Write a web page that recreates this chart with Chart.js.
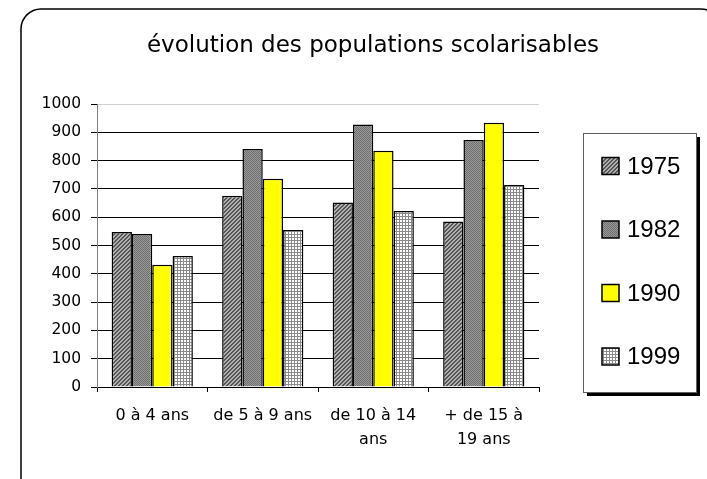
<!DOCTYPE html>
<html>
<head>
<meta charset="utf-8">
<script src="https://cdn.jsdelivr.net/npm/chart.js@4"></script>
<style>
    html, body { margin: 0; padding: 0; background: #fff; }
    #wrap { width: 707px; height: 479px; }
</style>
</head>
<body>
<div id="wrap"><canvas id="chart" width="707" height="479"></canvas></div>
<script>
// Data
const categories = [['0 à 4 ans'], ['de 5 à 9 ans'], ['de 10 à 14', 'ans'], ['+ de 15 à', '19 ans']];
const years = ['1975', '1982', '1990', '1999'];
const values1975 = [548, 676, 652, 585];
const values1982 = [541, 841, 928, 873];
const values1990 = [432, 736, 835, 934];
const values1999 = [463, 555, 622, 714];
const yMin = 0;
const yMax = 1000;
const yStep = 100;
const chartTitle = 'évolution des populations scolarisables';

// Fill patterns
function makePattern(size, paint) {
    const c = document.createElement('canvas');
    c.width = size;
    c.height = size;
    const g = c.getContext('2d');
    paint(g, size);
    return g.createPattern(c, 'repeat');
}

const diagPattern = makePattern(4, (g, s) => {
    g.fillStyle = '#b0b0b0';
    g.fillRect(0, 0, s, s);
    g.fillStyle = '#555';
    for (let i = 0; i < s; i++) g.fillRect(i, s - 1 - i, 1, 1);
    for (let i = 0; i < s; i++) g.fillRect((i + 1) % s, s - 1 - i, 1, 1);
});

const dotPattern = makePattern(2, (g) => {
    g.fillStyle = '#9a9a9a';
    g.fillRect(0, 0, 2, 2);
    g.fillStyle = '#6e6e6e';
    g.fillRect(0, 0, 1, 1);
    g.fillRect(1, 1, 1, 1);
});

const gridPattern = makePattern(3, (g) => {
    g.fillStyle = '#ffffff';
    g.fillRect(0, 0, 3, 3);
    g.fillStyle = '#8a8a8a';
    g.fillRect(0, 0, 3, 1);
    g.fillRect(0, 0, 1, 3);
});

const fills = [diagPattern, dotPattern, '#ffff00', gridPattern];
const seriesValues = [values1975, values1982, values1990, values1999];

// Frame + title
const framePlugin = {
    id: 'frame',
    beforeDraw(chart) {
        const ctx = chart.ctx;
        ctx.save();
        ctx.fillStyle = '#fff';
        ctx.fillRect(0, 0, chart.width, chart.height);
        ctx.strokeStyle = '#000';
        ctx.lineWidth = 1.5;
        ctx.beginPath();
        ctx.roundRect(21, 9, 700, 490, 20);
        ctx.stroke();
        ctx.fillStyle = '#000';
        ctx.font = '23px "DejaVu Sans", sans-serif';
        ctx.textAlign = 'center';
        ctx.textBaseline = 'alphabetic';
        ctx.fillText(chartTitle, 373, 51.5);
        ctx.restore();
    }
};

// Legend box with shadow
const legendPlugin = {
    id: 'legendBox',
    afterDraw(chart) {
        const ctx = chart.ctx;
        const box = { x: 583, y: 133, w: 113, h: 259 };
        ctx.save();
        ctx.fillStyle = '#000';
        ctx.fillRect(box.x + 4, box.y + 4, box.w, box.h);
        ctx.fillStyle = '#fff';
        ctx.fillRect(box.x, box.y, box.w, box.h);
        ctx.strokeStyle = '#606060';
        ctx.lineWidth = 1;
        ctx.strokeRect(box.x + 0.5, box.y + 0.5, box.w, box.h);
        ctx.font = '24px "Liberation Sans", Arial, sans-serif';
        ctx.textBaseline = 'middle';
        chart.data.datasets.forEach((ds, i) => {
            const cy = 166 + i * 63.5;
            ctx.fillStyle = ds.backgroundColor;
            ctx.fillRect(602, cy - 8.5, 17, 17);
            ctx.strokeStyle = '#000';
            ctx.lineWidth = 1.5;
            ctx.strokeRect(602, cy - 8.5, 17, 17);
            ctx.fillStyle = '#000';
            ctx.fillText(ds.label, 627, cy + 1);
        });
        ctx.restore();
    }
};

const ctx = document.getElementById('chart').getContext('2d');

new Chart(ctx, {
    type: 'bar',
    data: {
        labels: categories,
        datasets: years.map((y, i) => ({
            label: y,
            data: seriesValues[i],
            backgroundColor: fills[i],
            borderColor: '#000',
            borderWidth: 1.5,
            barPercentage: 1,
            categoryPercentage: 0.735
        }))
    },
    options: {
        responsive: false,
        animation: false,
        layout: { padding: { left: 30, top: 104, right: 168, bottom: 32 } },
        plugins: {
            legend: { display: false },
            title: { display: false },
            tooltip: { enabled: false }
        },
        scales: {
            x: {
                afterFit(scale) { scale.height = 60; },
                grid: {
                    display: true,
                    drawOnChartArea: false,
                    drawTicks: true,
                    offset: true,
                    tickLength: 5,
                    color: '#000'
                },
                border: { color: '#000', width: 1 },
                ticks: {
                    color: '#000',
                    padding: 12,
                    maxRotation: 0,
                    font: { family: '"DejaVu Sans", sans-serif', size: 16, lineHeight: 1.5 }
                }
            },
            y: {
                min: yMin,
                max: yMax,
                afterFit(scale) { scale.width = 67; },
                grid: {
                    color: (c) => (c.tick && c.tick.value === yMax ? '#d0d0d0' : '#000'),
                    tickColor: '#000',
                    tickLength: 6,
                    lineWidth: 1
                },
                border: { color: '#808080', width: 1 },
                ticks: {
                    stepSize: yStep,
                    color: '#000',
                    padding: 10,
                    callback: (v) => String(v),
                    font: { family: '"DejaVu Sans", sans-serif', size: 15.5 }
                }
            }
        }
    },
    plugins: [framePlugin, legendPlugin]
});
</script>
</body>
</html>
